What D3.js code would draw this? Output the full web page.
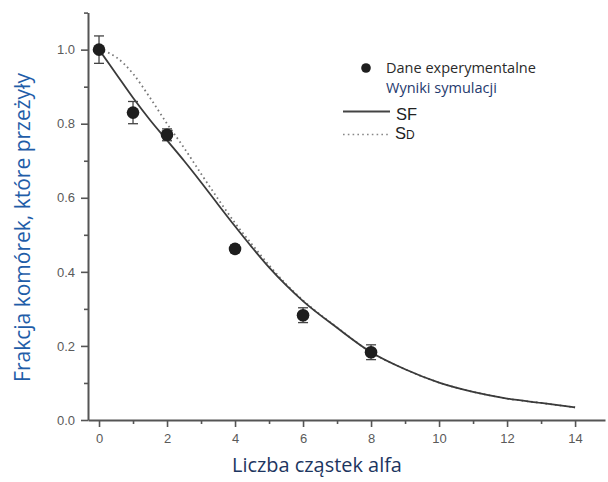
<!DOCTYPE html>
<html>
<head>
<meta charset="utf-8">
<script src="https://cdn.jsdelivr.net/npm/d3@7"></script>
<style>
  html, body { margin: 0; padding: 0; background: #fff; }
  svg { display: block; }
</style>
</head>
<body>
<svg id="chart" width="608" height="482"></svg>
<script>
// ---- Data ----
const expX   = [0, 1, 2, 4, 6, 8];
const expY   = [1.0, 0.83, 0.77, 0.462, 0.283, 0.183];
const expErr = [0.037, 0.03, 0.016, 0.01, 0.02, 0.02];

const simX  = [0, 0.5, 1, 1.5, 2, 2.5, 3, 3.5, 4, 4.5, 5, 5.5, 6, 7, 8, 9, 10, 11, 12, 13, 14];
const sfY   = [1.0, 0.935, 0.87, 0.81, 0.755, 0.70, 0.642, 0.582, 0.523, 0.466, 0.412, 0.364, 0.321, 0.249, 0.183, 0.137, 0.101, 0.076, 0.058, 0.046, 0.034];
const sdY   = [1.0, 0.98, 0.935, 0.87, 0.80, 0.735, 0.665, 0.597, 0.532, 0.474, 0.418, 0.367, 0.323, 0.250, 0.183, 0.137, 0.101, 0.076, 0.058, 0.046, 0.034];

const xMajor = [0, 2, 4, 6, 8, 10, 12, 14];
const xMinor = [1, 3, 5, 7, 9, 11, 13];
const yMajor = [0.0, 0.2, 0.4, 0.6, 0.8, 1.0];
const yMinor = [0.1, 0.3, 0.5, 0.7, 0.9, 1.1];

const yTitle = "Frakcja komórek, które przeżyły";
const xTitle = "Liczba cząstek alfa";
const legendExp = "Dane experymentalne";
const legendSim = "Wyniki symulacji";

// ---- Scales ----
const svg = d3.select("#chart");
const x = d3.scaleLinear().domain([-0.324, 14.88]).range([88, 605]);
const y = d3.scaleLinear().domain([0, 1.1]).range([420, 12.6]);

const axisColor = "#555";

// fit a text element's font size to a target width
function fitWidth(sel, target) {
  const len = sel.node().getComputedTextLength();
  const fs = parseFloat(sel.attr("font-size"));
  sel.attr("font-size", (fs * target / len).toFixed(2));
}

// ---- Axes ----
const gx = svg.append("g").attr("transform", `translate(0,${y(0)})`)
  .call(d3.axisBottom(x).tickValues(xMajor).tickSize(7).tickSizeOuter(0).tickPadding(7).tickFormat(d3.format("d")));
const gxm = svg.append("g").attr("transform", `translate(0,${y(0)})`)
  .call(d3.axisBottom(x).tickValues(xMinor).tickSize(4).tickSizeOuter(0).tickFormat(""));
gxm.select(".domain").remove();

const gy = svg.append("g").attr("transform", `translate(${x.range()[0]},0)`)
  .call(d3.axisLeft(y).tickValues(yMajor).tickSize(7).tickSizeOuter(0).tickPadding(6).tickFormat(d3.format(".1f")));
const gym = svg.append("g").attr("transform", `translate(${x.range()[0]},0)`)
  .call(d3.axisLeft(y).tickValues(yMinor).tickSize(4).tickSizeOuter(0).tickFormat(""));
gym.select(".domain").remove();

[gx, gxm, gy, gym].forEach(g => {
  g.selectAll(".domain").attr("stroke", axisColor).attr("stroke-width", 2);
  g.selectAll(".tick line").attr("stroke", axisColor).attr("stroke-width", 1.6);
  g.selectAll(".tick text").attr("fill", "#5a5a5a")
    .attr("font-family", "Liberation Sans, Arial, sans-serif").attr("font-size", 13);
});

// ---- Curves ----
const lineGen = d3.line().x(d => x(d[0])).y(d => y(d[1])).curve(d3.curveMonotoneX);

svg.append("path")
  .datum(simX.map((v, i) => [v, sdY[i]]))
  .attr("d", lineGen)
  .attr("fill", "none")
  .attr("stroke", "#777")
  .attr("stroke-width", 1.8)
  .attr("stroke-dasharray", "1.6,3.2");

svg.append("path")
  .datum(simX.map((v, i) => [v, sfY[i]]))
  .attr("d", lineGen)
  .attr("fill", "none")
  .attr("stroke", "#3a3a3a")
  .attr("stroke-width", 1.8);

// ---- Experimental points ----
const pts = expX.map((v, i) => ({x: v, y: expY[i], e: expErr[i]}));
const eb = svg.append("g").attr("stroke", "#444").attr("stroke-width", 1.3);
pts.forEach(p => {
  eb.append("line").attr("x1", x(p.x)).attr("x2", x(p.x)).attr("y1", y(p.y - p.e)).attr("y2", y(p.y + p.e));
  eb.append("line").attr("x1", x(p.x) - 5).attr("x2", x(p.x) + 5).attr("y1", y(p.y + p.e)).attr("y2", y(p.y + p.e));
  eb.append("line").attr("x1", x(p.x) - 5).attr("x2", x(p.x) + 5).attr("y1", y(p.y - p.e)).attr("y2", y(p.y - p.e));
});
svg.append("g").selectAll("circle").data(pts).join("circle")
  .attr("cx", d => x(d.x)).attr("cy", d => y(d.y)).attr("r", 6.3)
  .attr("fill", "#1e1e1e");

// ---- Legend ----
const lg = svg.append("g");
lg.append("circle").attr("cx", 366).attr("cy", 68).attr("r", 4.8).attr("fill", "#1e1e1e");
const t1 = lg.append("text").attr("x", 386).attr("y", 72.5).text(legendExp)
  .attr("font-family", "Open Sans, sans-serif").attr("font-size", 14).attr("fill", "#2a2a2a");
fitWidth(t1, 150);
lg.append("text").attr("x", 386).attr("y", 92.5).text(legendSim)
  .attr("font-family", "Open Sans, sans-serif").attr("font-size", t1.attr("font-size")).attr("fill", "#1f3a6e");
lg.append("line").attr("x1", 343).attr("x2", 390).attr("y1", 111.5).attr("y2", 111.5)
  .attr("stroke", "#444").attr("stroke-width", 1.8);
lg.append("text").attr("x", 396).attr("y", 120).text("SF")
  .attr("font-family", "Liberation Sans, Arial, sans-serif").attr("font-size", 16.5).attr("fill", "#222");
lg.append("line").attr("x1", 343).attr("x2", 390).attr("y1", 134.5).attr("y2", 134.5)
  .attr("stroke", "#888").attr("stroke-width", 1.6).attr("stroke-dasharray", "1.6,3.2");
const sd = lg.append("text").attr("x", 395).attr("y", 138.6)
  .attr("font-family", "Liberation Sans, Arial, sans-serif").attr("font-size", 16.5).attr("fill", "#222");
sd.append("tspan").text("S");
sd.append("tspan").attr("font-size", 12).text("D");

// ---- Axis titles ----
const yt = svg.append("text")
  .attr("transform", `translate(30,227.5) rotate(-90)`)
  .attr("text-anchor", "middle")
  .attr("font-family", "Open Sans, sans-serif").attr("font-size", 20)
  .attr("fill", "#1f5da8")
  .text(yTitle);
fitWidth(yt, 309);
const xt = svg.append("text")
  .attr("x", 317).attr("y", 472)
  .attr("text-anchor", "middle")
  .attr("font-family", "Open Sans, sans-serif").attr("font-size", 19.5)
  .attr("fill", "#1c3560")
  .text(xTitle);
fitWidth(xt, 170);
</script>
</body>
</html>
